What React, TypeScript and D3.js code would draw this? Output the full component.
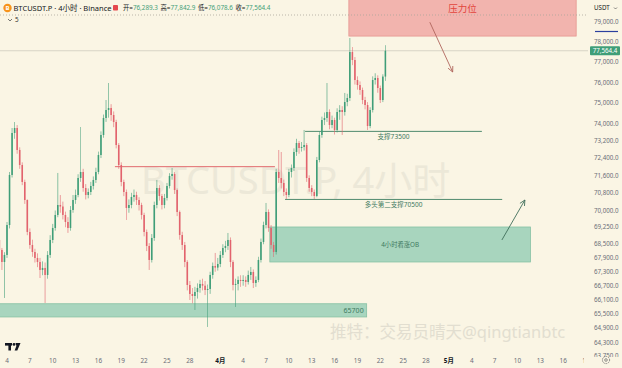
import React from "react";
import * as d3 from "d3";

// ---------- data (8h candles starting 2024-03-03 00:00 UTC) ----------
const candleStart = "2024-03-03T00:00:00Z";
const candleHours = 8;
const firstOpen = 68688;
const closes = [
  68248, 67724, 68030, 69352, 71616, 73574, 73810, 72775, 72077, 71295,
  70475, 69042, 68468, 68160, 67898, 67724, 67377, 67464, 67161, 68030,
  68688, 69219, 69800, 70249, 70180, 69800, 69486, 69219, 70024, 70475,
  70702, 71478, 71754, 71020, 70702, 70838, 71112, 71386, 71754, 72541,
  73480, 74286, 74668, 74764, 74428, 74095, 73008, 72077, 71295, 70838,
  70114, 70249, 70611, 70702, 70475, 70249, 69800, 69042, 68424, 67811,
  68776, 70249, 71020, 70656, 70249, 70566, 71112, 71570, 71662, 70929,
  69934, 68909, 68468, 67724, 66731, 66346, 66261, 66432, 66603, 66774,
  66700, 66517, 66560, 67161, 67550, 67480, 67637, 68030, 68336, 68424,
  68688, 67724, 66731, 66774, 66946, 66903, 66946, 66860, 67161, 67291,
  66817, 66946, 67811, 68600, 69352, 69934, 69219, 68468, 68160, 71754,
  71478, 71249, 70838, 70702, 71754, 71938, 72681, 73102, 72868, 72915,
  73008, 71478, 71020, 70838, 70656, 72309, 73480, 74190, 74286, 74572,
  73952, 74190, 73716, 74572, 74668, 74572, 75052, 75245, 77502, 77105,
  76121, 75877, 75634, 75149, 74908, 73905, 74668, 76121, 76219, 75731,
  75149, 76289, 77564.4,
];
const highs = [
  68909, 68336, 68150, 69486, 71754, 73810, 74095, 73950, 72900, 72200,
  71400, 70500, 69200, 68700, 68300, 68100, 67900, 67750, 67700, 68200,
  68900, 69400, 70000, 71708, 70700, 70400, 69950, 69700, 70200, 70700,
  70950, 71650, 73857, 71900, 71200, 71000, 71300, 71550, 71950, 72700,
  73650, 74450, 75149, 75974, 74950, 74600, 74200, 73100, 72200, 71400,
  70950, 70500, 70800, 70950, 70850, 70600, 70350, 69900, 69150, 68550,
  68950, 70400, 71386, 71150, 70750, 70750, 71250, 71700, 71938, 71750,
  71000, 70000, 69050, 68600, 67800, 66900, 66600, 66650, 66800, 66950,
  67000, 66900, 66750, 67300, 67700, 68117, 67900, 68200, 68500, 68650,
  68997, 68800, 67800, 67000, 67100, 67150, 67150, 67100, 67350, 67507,
  67400, 67100, 67950, 68750, 69500, 70339, 70050, 69350, 68600, 71900,
  72775, 72681, 71400, 71000, 71900, 72100, 72850, 73300, 73200, 73150,
  73716, 73100, 71600, 71150, 70950, 72450, 73650, 74350, 74550, 75974,
  74700, 74400, 74300, 74750, 74900, 74850, 75490, 75450, 78202, 77750,
  77250, 76300, 76050, 75750, 75300, 75050, 74800, 76300, 76450, 76350,
  75850, 76400, 77842.9,
];
const lows = [
  67724, 67377, 66176, 67900, 69200, 71500, 73300, 72600, 71900, 71150,
  70300, 68900, 68300, 67950, 67700, 67500, 67030, 67150, 65964, 67000,
  67900, 68550, 69100, 69700, 69900, 69600, 69250, 69000, 69100, 69900,
  70300, 70600, 71300, 70850, 70500, 70550, 70700, 70950, 71250, 71650,
  72400, 73350, 74100, 74300, 74150, 73850, 72850, 71900, 71100, 70650,
  69575, 69900, 70100, 70400, 70250, 70000, 69600, 68850, 68200, 67377,
  67700, 68650, 70100, 70450, 70050, 70100, 70450, 71000, 71400, 70750,
  69750, 68700, 68250, 67500, 66500, 66091, 65950, 65668, 66150, 66400,
  66500, 66300, 64955, 66350, 67000, 67300, 67350, 67500, 67900, 68150,
  68250, 67500, 66500, 65794, 66500, 66650, 66700, 66650, 66750, 66950,
  66600, 66650, 66850, 67700, 68500, 69200, 69050, 68300, 67942, 68050,
  71250, 71000, 70650, 70520, 70600, 71500, 71800, 72500, 72600, 72700,
  72750, 71300, 70850, 70650, 70520, 70600, 72200, 73350, 73950, 74100,
  73750, 73800, 73500, 73600, 74200, 73480, 74400, 74850, 75100, 76850,
  75900, 75650, 75400, 74950, 74700, 73716, 73800, 74550, 75900, 75500,
  75004, 75050, 76078.6,
];

const yTicks = [79000, 78000, 77000, 76000, 75000, 74000, 73200, 72400, 71600, 70800, 70000,
  69250, 68500, 67900, 67300, 66700, 66100, 65500, 64900, 64300, 63750];
const xTickDates = ["2024-03-04", "2024-03-07", "2024-03-10", "2024-03-13", "2024-03-16", "2024-03-19",
  "2024-03-22", "2024-03-25", "2024-03-28", "2024-04-01", "2024-04-04", "2024-04-07", "2024-04-10",
  "2024-04-13", "2024-04-16", "2024-04-19", "2024-04-22", "2024-04-25", "2024-04-28", "2024-05-01",
  "2024-05-04", "2024-05-07", "2024-05-10", "2024-05-13", "2024-05-16", "2024-05-19"];

const ohlcLabels = ["开", "高", "低", "收"];
const ohlcValues = [76289.3, 77842.9, 76078.6, 77564.4];
const lastPrice = 77564.4;
const dottedLevel = 79366;

// drawings (time / price)
const resistanceZone = { from: "2024-04-17T21:00:00Z", to: "2024-05-17T17:00:00Z", low: 78300, high: 81500, label: "压力位" };
const obZone = { from: "2024-04-07T12:00:00Z", to: "2024-05-11T17:00:00Z", low: 67724, high: 69263, label: "4小时看涨OB" };
const baseZone = { from: "2024-03-02T00:00:00Z", to: "2024-04-20T05:00:00Z", low: 65374, high: 65931, label: "65700" };
const redLevel = { from: "2024-03-18T04:00:00Z", to: "2024-04-08T04:00:00Z", price: 72000 };
const support1 = { from: "2024-04-12T03:00:00Z", to: "2024-05-05T08:00:00Z", price: 73650, label: "支撑73500" };
const support2 = { from: "2024-04-09T12:00:00Z", to: "2024-05-08T00:00:00Z", price: 70500, label: "多头第二支撑70500" };
const downArrow = { from: "2024-04-28T12:00:00Z", fromPrice: 79000, to: "2024-05-01T12:00:00Z", toPrice: 76513 };
const upArrow = { from: "2024-05-07T23:00:00Z", fromPrice: 68688, to: "2024-05-10T23:30:00Z", toPrice: 70475 };

// ---------- layout ----------
const W = 622, H = 368;
const PR = 588, PB = 353;
const BG = "#faf5e4";
const UP = "#3f9e78";
const DOWN = "#e2636d";
const FONT = "'Noto Sans', 'Noto Sans CJK SC', sans-serif";

const x = d3.scaleUtc()
  .domain([new Date("2024-03-04T00:00:00Z"), new Date("2024-05-19T00:00:00Z")])
  .range([7, 586]);
const y = d3.scaleLog().domain([63878, 80135]).range([PB, 0]);
const fmt = d3.format(",.1f");
const T = (s: string) => new Date(s);

function Arrow({ a, color }: { a: any; color: string }) {
  const x1 = x(T(a.from)), y1 = y(a.fromPrice), x2 = x(T(a.to)), y2 = y(a.toPrice);
  const ang = Math.atan2(y2 - y1, x2 - x1);
  const L = 6, sp = 0.45;
  const h1 = [x2 - L * Math.cos(ang - sp), y2 - L * Math.sin(ang - sp)];
  const h2 = [x2 - L * Math.cos(ang + sp), y2 - L * Math.sin(ang + sp)];
  return (
    <g stroke={color} strokeWidth={0.9} fill="none">
      <line x1={x1} y1={y1} x2={x2} y2={y2} />
      <polyline points={`${h1[0]},${h1[1]} ${x2},${y2} ${h2[0]},${h2[1]}`} />
    </g>
  );
}

export default function App() {
  const t0 = new Date(candleStart).getTime();
  const step = candleHours * 3600 * 1000;
  const spacing = x(new Date(t0 + step)) - x(new Date(t0));
  const bw = spacing * 0.62;
  const candles = closes.map((c, i) => {
    const o = i === 0 ? firstOpen : closes[i - 1];
    return { t: new Date(t0 + i * step), o, c, h: Math.max(highs[i], o, c), l: Math.min(lows[i], o, c) };
  });

  const zone = (z: any, fill: string, stroke: string) => (
    <rect x={x(T(z.from))} y={y(z.high)} width={x(T(z.to)) - x(T(z.from))}
      height={y(z.low) - y(z.high)} fill={fill} stroke={stroke} strokeWidth={0.8} />
  );

  return (
    <div style={{ position: "fixed", left: 0, top: 0, width: W, height: H, background: BG }}>
      <svg width={W} height={H} style={{ display: "block", fontFamily: FONT }}>
        <defs>
          <clipPath id="plot"><rect x={0} y={0} width={PR} height={PB} /></clipPath>
          <clipPath id="axisClip"><rect x={PR} y={0} width={W - PR} height={357} /></clipPath>
          <clipPath id="timeClip"><rect x={0} y={PB} width={PR - 4} height={H - PB} /></clipPath>
        </defs>
        <rect width={W} height={H} fill={BG} />

        {/* watermarks */}
        <text x={141} y={194} fontSize={38} fill="#ece8d8" fontFamily={FONT}>BTCUSDT.P, 4小时</text>
        <text x={330} y={338} fontSize={16.5} fill="#e2ded0" fontFamily={FONT}>推特：交易员晴天@qingtianbtc</text>

        <g clipPath="url(#plot)">
          {/* zones */}
          {zone(resistanceZone, "#f2b4ae", "#e6958f")}
          {zone(obZone, "#a8d5be", "#86c1a4")}
          {zone(baseZone, "#a8d5be", "#86c1a4")}

          {/* levels */}
          <line x1={0} x2={PR} y1={y(dottedLevel)} y2={y(dottedLevel)} stroke="#aaa59a" strokeWidth={0.8} strokeDasharray="1 2" />
          <line x1={0} x2={PR} y1={y(lastPrice)} y2={y(lastPrice)} stroke="#cfcbbe" strokeWidth={0.8} />
          <line x1={x(T(redLevel.from))} x2={x(T(redLevel.to))} y1={y(redLevel.price)} y2={y(redLevel.price)} stroke="#e06a6e" strokeWidth={1} />
          <line x1={x(T(support1.from))} x2={x(T(support1.to))} y1={y(support1.price)} y2={y(support1.price)} stroke="#4f8a6e" strokeWidth={1} />
          <line x1={x(T(support2.from))} x2={x(T(support2.to))} y1={y(support2.price)} y2={y(support2.price)} stroke="#4f8a6e" strokeWidth={1} />

          {/* candles */}
          {candles.map((d, i) => {
            const cx = x(d.t);
            const col = d.c >= d.o ? UP : DOWN;
            const top = y(Math.max(d.o, d.c));
            const bot = y(Math.min(d.o, d.c));
            return (
              <g key={i}>
                <line x1={cx} x2={cx} y1={y(d.h)} y2={y(d.l)} stroke={col} strokeWidth={0.7} opacity={0.85} />
                <rect x={cx - bw / 2} y={top} width={bw} height={Math.max(0.8, bot - top)} fill={col} />
              </g>
            );
          })}

          {/* labels */}
          <text x={(x(T(resistanceZone.from)) + x(T(resistanceZone.to))) / 2} y={12} fontSize={9.5} fill="#e2453c" textAnchor="middle">{resistanceZone.label}</text>
          <text x={(x(T(obZone.from)) + x(T(obZone.to))) / 2} y={(y(obZone.low) + y(obZone.high)) / 2 + 2.3} fontSize={6.3} fill="#3e7a5f" textAnchor="middle">{obZone.label}</text>
          <text x={x(T(baseZone.to)) - 3} y={(y(baseZone.low) + y(baseZone.high)) / 2 + 2.4} fontSize={7} fill="#3e7a5f" textAnchor="end">{baseZone.label}</text>
          <text x={(x(T(support1.from)) + x(T(support1.to))) / 2} y={y(support1.price) + 8} fontSize={6.6} fill="#3e7a5f" textAnchor="middle">{support1.label}</text>
          <text x={(x(T(support2.from)) + x(T(support2.to))) / 2} y={y(support2.price) + 8} fontSize={6.5} fill="#3e7a5f" textAnchor="middle">{support2.label}</text>

          <Arrow a={downArrow} color="#b0655c" />
          <Arrow a={upArrow} color="#3f6e5a" />
        </g>

        {/* header legend */}
        <circle cx={7.5} cy={8} r={4.2} fill="#f7931a" />
        <text x={7.5} y={10.3} fontSize={6} fill="#fff" textAnchor="middle" fontWeight="bold">B</text>
        <text x={13.5} y={10.6} fontSize={7.5} fill="#131722">BTCUSDT.P · 4小时 · Binance</text>
        <rect x={113} y={5} width={5} height={5.5} rx={0.8} fill="#e5484d" />
        {ohlcLabels.map((lab, i) => (
          <text key={lab} x={123 + i * 37.5} y={10.4} fontSize={6.3}>
            <tspan fill="#131722">{lab}=</tspan>
            <tspan fill={UP}>{fmt(ohlcValues[i])}</tspan>
          </text>
        ))}
        <polyline points="8,19 10,21 12,19" fill="none" stroke="#555" strokeWidth={0.8} />
        <text x={15} y={22} fontSize={6.3} fill="#333">5</text>

        {/* TV logo */}
        <g fill="#131722">
          <rect x={5} y={343} width={7} height={2.6} />
          <rect x={8.4} y={343} width={2.6} height={7.5} />
          <circle cx={14} cy={344.4} r={1.4} />
          <polygon points="15.5,343 20.5,343 17.3,350.5 14.6,350.5 16.4,346" />
        </g>

        {/* price axis */}
        <text x={594} y={10} fontSize={6.2} fill="#131722">USDT</text>
        <polyline points="614,7.5 615.5,9 617,7.5" fill="none" stroke="#555" strokeWidth={0.7} />
        <line x1={595} x2={618} y1={31.5} y2={31.5} stroke="#2b3f9e" strokeWidth={1.2} />
        <g clipPath="url(#axisClip)">
          {yTicks.map((v) => (
            <text key={v} x={594} y={y(v) + 2.2} fontSize={6.2} fill="#6a6d78">{fmt(v)}</text>
          ))}
        </g>
        <rect x={590} y={y(lastPrice) - 4.5} width={30} height={9} fill="#3f9e78" rx={1} />
        <text x={605} y={y(lastPrice) + 2.2} fontSize={6.2} fill="#fff" textAnchor="middle">{fmt(lastPrice)}</text>

        {/* time axis */}
        <g clipPath="url(#timeClip)">
          {xTickDates.map((s) => {
            const d = new Date(s + "T00:00:00Z");
            const day = d.getUTCDate();
            const isMonth = day === 1;
            return (
              <text key={s} x={x(d)} y={363} fontSize={6.4} textAnchor="middle"
                fill={isMonth ? "#131722" : "#6a6d78"} fontWeight={isMonth ? "bold" : "normal"}>
                {isMonth ? `${d.getUTCMonth() + 1}月` : day}
              </text>
            );
          })}
        </g>
        <circle cx={606} cy={360} r={3.6} fill="none" stroke="#666" strokeWidth={0.8} strokeDasharray="1.4 0.9" />
        <circle cx={606} cy={360} r={1.3} fill="none" stroke="#666" strokeWidth={0.7} />
      </svg>
    </div>
  );
}
